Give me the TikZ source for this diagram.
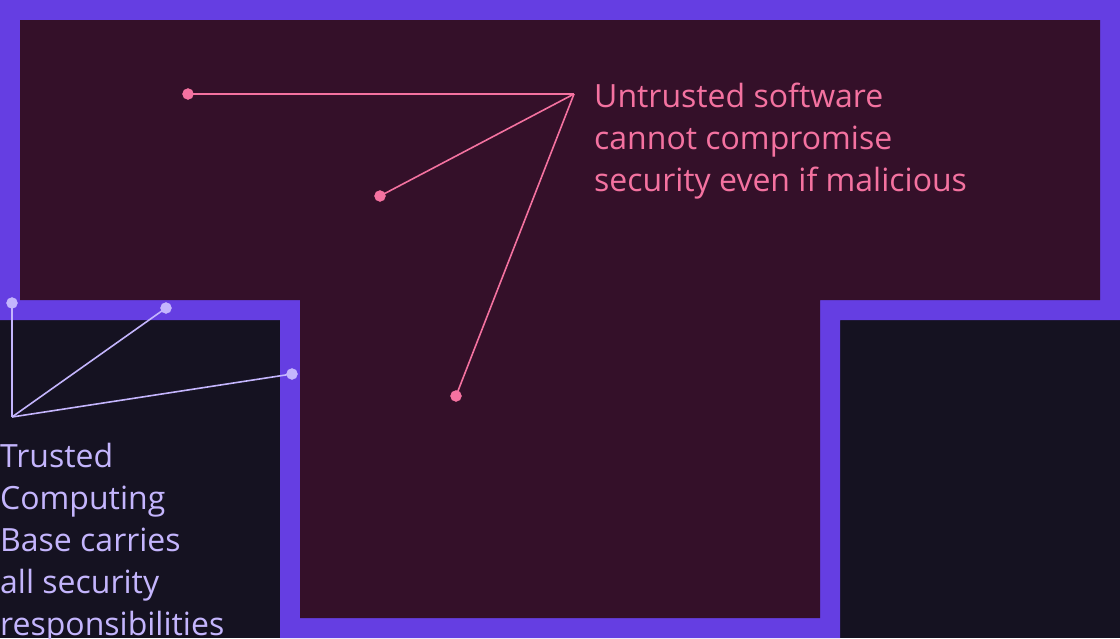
\documentclass[tikz,border=0pt]{standalone}
\usepackage{fontspec}
\setmainfont{Open Sans}
\usepackage{tikz}
\definecolor{band_purple}{RGB}{101, 62, 226}
\definecolor{dark_wine}{RGB}{52, 16, 41}
\definecolor{dark_navy}{RGB}{21, 18, 33}
\definecolor{pink_note}{RGB}{244, 114, 160}
\definecolor{lavender_note}{RGB}{196, 181, 253}

\begin{document}
\begin{tikzpicture}[x=1pt, y=-1pt]
\useasboundingbox (0, 0) rectangle (1120, 638);
\fill[dark_navy] (0, 0) rectangle (1120, 638);

% T shape: band and inside
\fill[band_purple] (0, 0) -- (1120, 0) -- (1120, 320) -- (840, 320)
  -- (840, 638) -- (280, 638) -- (280, 320) -- (0, 320) -- cycle;
\fill[dark_wine] (20, 20) -- (1100, 20) -- (1100, 300) -- (820, 300)
  -- (820, 618) -- (300, 618) -- (300, 300) -- (20, 300) -- cycle;

% untrusted side
\coordinate (untrusted_hub) at (574, 94);
\coordinate (untrusted_a) at (188, 94);
\coordinate (untrusted_b) at (380, 196);
\coordinate (untrusted_c) at (456, 396);
\foreach \p in {a, b, c} {
  \draw[pink_note, line width=1.6pt] (untrusted_hub) -- (untrusted_\p);
  \filldraw[pink_note] (untrusted_\p) circle (5.5pt);
}
\node[pink_note, anchor=base west, inner sep=0, align=left,
  font=\fontsize{32}{42}\selectfont] (untrusted_text) at (594, 191)
  {Untrusted software\\cannot compromise\\security even if malicious};

% trusted side
\coordinate (trusted_hub) at (12, 417);
\coordinate (trusted_a) at (12, 303);
\coordinate (trusted_b) at (166, 308);
\coordinate (trusted_c) at (292, 374);
\foreach \p in {a, b, c} {
  \draw[lavender_note, line width=1.6pt] (trusted_hub) -- (trusted_\p);
  \filldraw[lavender_note] (trusted_\p) circle (5.5pt);
}
\node[lavender_note, anchor=base west, inner sep=0, align=left,
  font=\fontsize{32}{42}\selectfont] (trusted_text) at (0, 635)
  {Trusted\\Computing\\Base carries\\all security\\responsibilities};
\end{tikzpicture}
\end{document}
